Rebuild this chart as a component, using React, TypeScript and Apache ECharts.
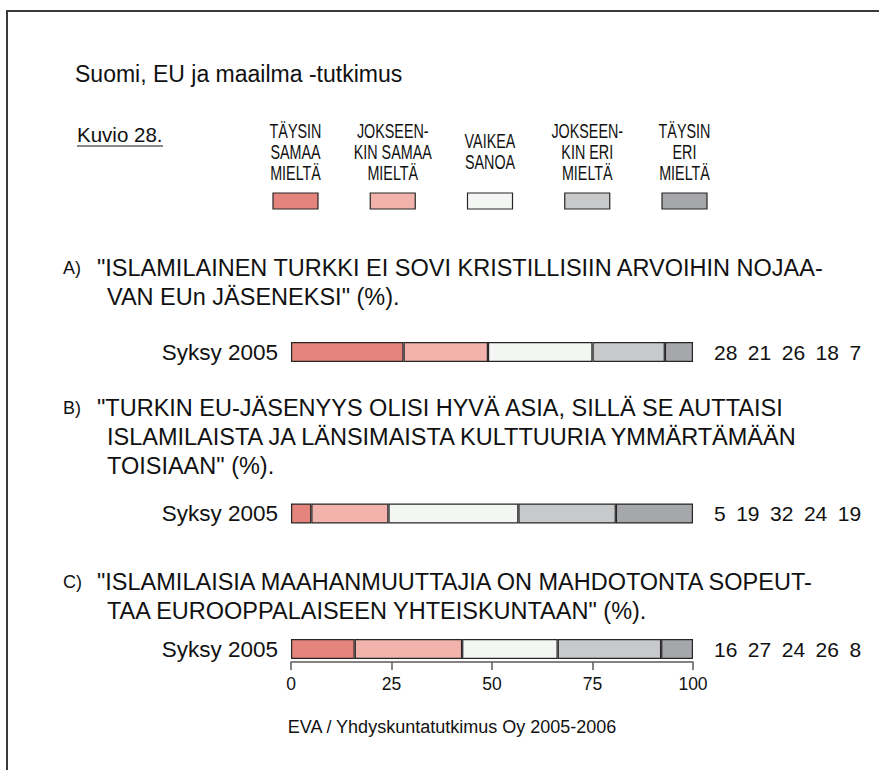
import React, { useEffect, useRef } from 'react';
import * as echarts from 'echarts';

const titleText = 'Suomi, EU ja maailma -tutkimus';
const figureLabel = 'Kuvio 28.';
const sourceText = 'EVA / Yhdyskuntatutkimus Oy 2005-2006';
const categories = ['Syksy 2005'];
const responseNames = [
  'TÄYSIN\nSAMAA\nMIELTÄ',
  'JOKSEEN-\nKIN SAMAA\nMIELTÄ',
  'VAIKEA\nSANOA',
  'JOKSEEN-\nKIN ERI\nMIELTÄ',
  'TÄYSIN\nERI\nMIELTÄ',
];
const responseColors = ['#E5847C', '#F1B3AB', '#F4F6F4', '#C8C9CB', '#A6A7AA'];
const questionLetters = ['A)', 'B)', 'C)'];
const questionA = [
  '"ISLAMILAINEN TURKKI EI SOVI KRISTILLISIIN ARVOIHIN NOJAA-',
  'VAN EUn JÄSENEKSI" (%).',
];
const questionB = [
  '"TURKIN EU-JÄSENYYS OLISI HYVÄ ASIA, SILLÄ SE AUTTAISI',
  'ISLAMILAISTA JA LÄNSIMAISTA KULTTUURIA YMMÄRTÄMÄÄN',
  'TOISIAAN" (%).',
];
const questionC = [
  '"ISLAMILAISIA MAAHANMUUTTAJIA ON MAHDOTONTA SOPEUT-',
  'TAA EUROOPPALAISEEN YHTEISKUNTAAN" (%).',
];
const valuesA = [28, 21, 26, 18, 7];
const valuesB = [5, 19, 32, 24, 19];
const valuesC = [16, 27, 24, 26, 8];
const xTicks = [0, 25, 50, 75, 100];

const FONT = '"Liberation Sans", Arial, Helvetica, sans-serif';
const INK = '#111';

export default function App() {
  const ref = useRef<HTMLDivElement>(null);

  useEffect(() => {
    if (!ref.current) return;
    const chart = echarts.init(ref.current, undefined, { renderer: 'svg' });

    const questions = [questionA, questionB, questionC];
    const values = [valuesA, valuesB, valuesC];
    const gridTops = [342, 503.5, 639];
    const questionTops = [268, 408, 582];
    const lineGap = 29;

    const grids = gridTops.map((t) => ({ left: 291, width: 402, top: t, height: 20 }));

    const xAxes = values.map((_, i) => ({
      gridIndex: i,
      type: 'value',
      min: xTicks[0],
      max: xTicks[xTicks.length - 1],
      interval: xTicks[1] - xTicks[0],
      show: i === 2,
      offset: 3,
      axisLine: { show: true, lineStyle: { color: '#5a5a5a', width: 1.5 } },
      axisTick: { show: true, length: 8, lineStyle: { color: '#5a5a5a', width: 1.5 } },
      axisLabel: { fontSize: 17.5, color: INK, fontFamily: FONT, margin: 13 },
      splitLine: { show: false },
    }));

    const yAxes = values.map((_, i) => ({
      gridIndex: i,
      type: 'category',
      data: categories,
      axisLine: { show: false },
      axisTick: { show: false },
      axisLabel: { fontSize: 22.5, color: INK, fontFamily: FONT, margin: 13 },
    }));

    const series: any[] = [];
    values.forEach((row, i) => {
      const total = row.reduce((a, b) => a + b, 0);
      row.forEach((v, j) => {
        series.push({
          type: 'bar',
          name: responseNames[j],
          xAxisIndex: i,
          yAxisIndex: i,
          stack: 'q' + i,
          barWidth: 20,
          silent: true,
          data: [(v / total) * 100],
          itemStyle: { color: responseColors[j], borderColor: '#262626', borderWidth: 1.2 },
          label:
            j === row.length - 1
              ? {
                  show: true,
                  position: 'right',
                  distance: 21,
                  formatter: () => row.join('\u2002'),
                  fontSize: 21,
                  color: INK,
                  fontFamily: FONT,
                }
              : { show: false },
        });
      });
    });

    const graphic: any[] = [];
    graphic.push({
      type: 'polyline',
      shape: { points: [[7, 770], [7, 11], [879, 11]] },
      style: { stroke: '#3a3a3a', lineWidth: 2, fill: 'none' },
      silent: true,
    });
    graphic.push({
      type: 'text',
      style: { text: titleText, x: 75, y: 74, fontSize: 23, fontFamily: FONT, fill: INK, textVerticalAlign: 'middle' },
    });
    graphic.push({
      type: 'text',
      style: { text: figureLabel, x: 77, y: 134, fontSize: 20.5, fontFamily: FONT, fill: INK, textVerticalAlign: 'middle' },
    });
    graphic.push({
      type: 'line',
      shape: { x1: 77, y1: 146, x2: 163, y2: 146 },
      style: { stroke: INK, lineWidth: 1.2 },
    });
    responseNames.forEach((name, j) => {
      const cx = 295.5 + j * 97.25;
      graphic.push({
        type: 'text',
        x: cx,
        y: 152,
        scaleX: 0.7,
        style: {
          text: name,
          x: 0,
          y: 0,
          fontSize: 20.5,
          lineHeight: 21,
          fontFamily: FONT,
          fill: INK,
          textAlign: 'center',
          textVerticalAlign: 'middle',
        },
      });
      graphic.push({
        type: 'rect',
        shape: { x: cx - 22.5, y: 193, width: 45, height: 16 },
        style: { fill: responseColors[j], stroke: '#262626', lineWidth: 1.2 },
      });
    });
    questions.forEach((lines, i) => {
      graphic.push({
        type: 'text',
        style: {
          text: questionLetters[i],
          x: 63,
          y: questionTops[i],
          fontSize: 18,
          fontFamily: FONT,
          fill: INK,
          textVerticalAlign: 'middle',
        },
      });
      lines.forEach((ln, k) => {
        graphic.push({
          type: 'text',
          style: {
            text: ln,
            x: k === 0 ? 97 : 107,
            y: questionTops[i] + k * lineGap,
            fontSize: 23.5,
            fontFamily: FONT,
            fill: INK,
            textVerticalAlign: 'middle',
          },
        });
      });
    });
    graphic.push({
      type: 'text',
      style: {
        text: sourceText,
        x: 452,
        y: 727,
        fontSize: 18,
        fontFamily: FONT,
        fill: INK,
        textAlign: 'center',
        textVerticalAlign: 'middle',
      },
    });

    chart.setOption({
      animation: false,
      backgroundColor: '#ffffff',
      grid: grids,
      xAxis: xAxes,
      yAxis: yAxes,
      series,
      graphic,
    });

    return () => chart.dispose();
  }, []);

  return (
    <div
      ref={ref}
      style={{ position: 'fixed', left: 0, top: 0, width: 879, height: 770, background: '#fff' }}
    />
  );
}
